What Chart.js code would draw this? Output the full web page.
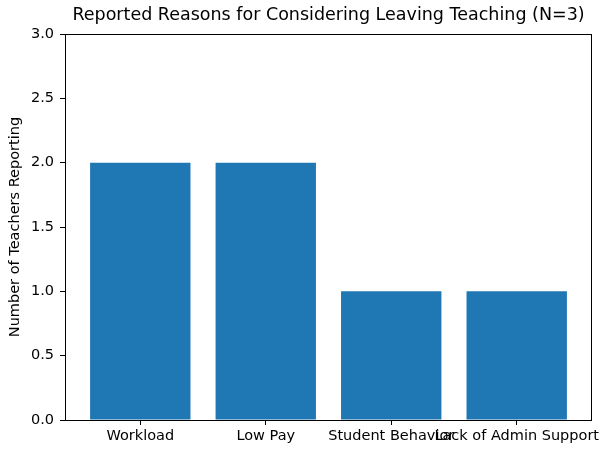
<!DOCTYPE html>
<html>
<head>
<meta charset="utf-8">
<script src="https://cdn.jsdelivr.net/npm/chart.js@4"></script>
<style>
  html, body { margin: 0; padding: 0; background: #fff; }
</style>
</head>
<body>
<canvas id="chart" width="602" height="449"></canvas>
<script>
// reasons and how many teachers reported each
var categories = ['Workload', 'Low Pay', 'Student Behavior', 'Lack of Admin Support'];
var counts = [2, 2, 1, 1];
var yTicks = [0, 0.5, 1, 1.5, 2, 2.5, 3];

var fontFamily = '"DejaVu Sans", sans-serif';

// matplotlib style box around the plot
var frame = {
    id: 'frame',
    afterDraw: function (chart) {
        var a = chart.chartArea;
        var ctx = chart.ctx;
        ctx.save();
        ctx.strokeStyle = '#000';
        ctx.lineWidth = 1;
        ctx.strokeRect(Math.round(a.left) + 0.5, Math.round(a.top) + 0.5,
            Math.round(a.right - a.left) - 1, Math.round(a.bottom - a.top));
        ctx.restore();
    }
};

var points = [];
for (var i = 0; i < categories.length; i++) {
    points.push({ x: i, y: counts[i] });
}

var ctx = document.getElementById('chart').getContext('2d');
var myChart = new Chart(ctx, {
    type: 'bar',
    data: {
        datasets: [{
            data: points,
            backgroundColor: '#1f77b4',
            borderWidth: 0,
            barPercentage: 0.8,
            categoryPercentage: 1.0
        }]
    },
    options: {
        responsive: false,
        animation: false,
        layout: { padding: { left: 0, right: 10, top: 0, bottom: 0 } },
        plugins: {
            legend: { display: false },
            tooltip: { enabled: false },
            title: {
                display: true,
                fullSize: false,
                text: 'Reported Reasons for Considering Leaving Teaching (N=3)',
                color: '#000',
                font: { family: fontFamily, size: 17.5, weight: 'normal', lineHeight: 1.2 },
                padding: { top: 5, bottom: 8 }
            }
        },
        scales: {
            x: {
                type: 'linear',
                min: -0.6,
                max: 3.6,
                offset: false,
                grid: { offset: false, drawOnChartArea: false, drawTicks: true, tickLength: 5, tickColor: '#000' },
                border: { display: false },
                afterBuildTicks: function (scale) {
                    scale.ticks = categories.map(function (c, i) { return { value: i }; });
                },
                ticks: {
                    autoSkip: false,
                    maxRotation: 0,
                    minRotation: 0,
                    padding: 3,
                    color: '#000',
                    font: { family: fontFamily, size: 14.5 },
                    callback: function (v) { return categories[v]; }
                },
                afterFit: function (scale) {
                    scale.height = 29;
                    scale.paddingLeft = 0;
                    scale.paddingRight = 0;
                }
            },
            y: {
                min: 0,
                max: 3,
                grid: { drawOnChartArea: false, drawTicks: true, tickLength: 5, tickColor: '#000' },
                border: { display: false },
                afterBuildTicks: function (scale) {
                    scale.ticks = yTicks.map(function (v) { return { value: v }; });
                },
                ticks: {
                    padding: 6,
                    color: '#000',
                    font: { family: fontFamily, size: 14.5 },
                    callback: function (v) { return v.toFixed(1); }
                },
                title: {
                    display: true,
                    text: 'Number of Teachers Reporting',
                    color: '#000',
                    font: { family: fontFamily, size: 14.5 },
                    padding: { top: 7, bottom: 0 }
                },
                afterFit: function (scale) {
                    scale.width = 65;
                    scale.paddingTop = 0;
                    scale.paddingBottom = 0;
                }
            }
        }
    },
    plugins: [frame]
});
</script>
</body>
</html>
